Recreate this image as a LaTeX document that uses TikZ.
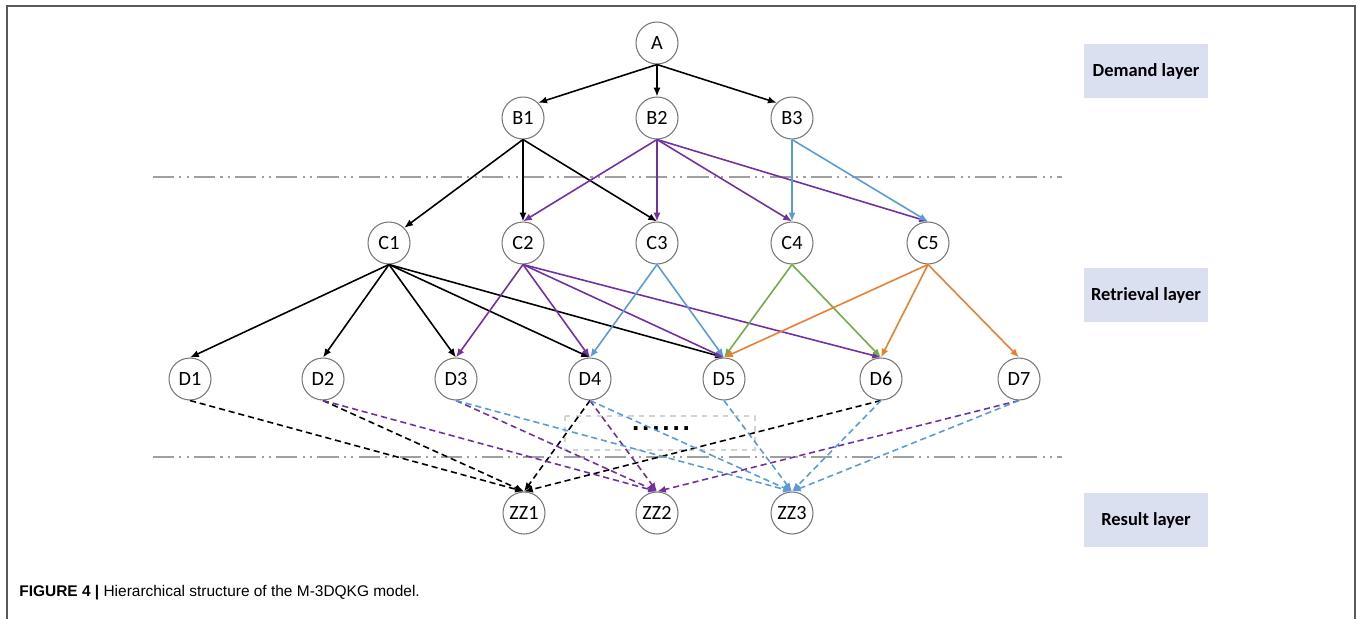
\documentclass[tikz,border=0pt]{standalone}
\usepackage{fontspec}
\setmainfont{Carlito}
\newfontfamily\capfont{Liberation Sans}
\usetikzlibrary{arrows.meta}

\definecolor{olpurple}{RGB}{112,48,160}
\definecolor{olblue}{RGB}{91,155,213}
\definecolor{olgreen}{RGB}{112,173,71}
\definecolor{olorange}{RGB}{237,125,49}
\definecolor{layerfill}{RGB}{218,224,240}
\definecolor{knotline}{RGB}{120,120,120}

\begin{document}
\begin{tikzpicture}[x=0.02cm, y=-0.02cm, >={Latex[length=5pt,width=4pt]},
    knot/.style={circle, draw=knotline, line width=0.6pt, minimum size=0.84cm,
        inner sep=0pt, font=\fontsize{11.5}{12}\selectfont},
    layerbox/.style={fill=layerfill, minimum width=2.48cm, minimum height=1.08cm,
        font=\bfseries\fontsize{10.5}{12}\selectfont},
    sepline/.style={draw=gray!75, line width=0.8pt,
        dash pattern=on 12pt off 3pt on 1.2pt off 3pt on 1.2pt off 3pt},
    edge/.style={->, line width=0.9pt},
    dedge/.style={->, line width=0.9pt, dash pattern=on 3.5pt off 2.2pt}]

    \useasboundingbox (0,0) rectangle (1357,619);

    % 1. Marco de la figura
    \draw[line width=1.1pt, draw=gray!70!black] (7,619) -- (7,6) -- (1355,6) -- (1355,619);

    % 2. Lineas de separacion entre capas
    \draw[sepline] (153,177) -- (1062,177);
    \draw[sepline] (153,457) -- (1062,457);

    % 3. Cajas de las capas
    \node[layerbox] (demand) at (1146,71) {Demand layer};
    \node[layerbox] (retrieval) at (1146,295) {Retrieval layer};
    \node[layerbox] (result) at (1146,520) {Result layer};

    % 4. Nodos del nivel A y B
    \node[knot] (A) at (657,43) {A};
    \node[knot] (B1) at (523,118) {B1};
    \node[knot] (B2) at (657,118) {B2};
    \node[knot] (B3) at (792,118) {B3};

    % 5. Nodos del nivel C
    \node[knot] (C1) at (389,243) {C1};
    \node[knot] (C2) at (523,243) {C2};
    \node[knot] (C3) at (657,243) {C3};
    \node[knot] (C4) at (792,243) {C4};
    \node[knot] (C5) at (928,243) {C5};

    % 6. Nodos del nivel D
    \node[knot] (D1) at (190,379) {D1};
    \node[knot] (D2) at (323,379) {D2};
    \node[knot] (D3) at (456,379) {D3};
    \node[knot] (D4) at (590,379) {D4};
    \node[knot] (D5) at (724,379) {D5};
    \node[knot] (D6) at (881,379) {D6};
    \node[knot] (D7) at (1019,379) {D7};

    % 7. Nodos del resultado
    \node[knot] (ZZ1) at (524,513) {ZZ1};
    \node[knot] (ZZ2) at (657,513) {ZZ2};
    \node[knot] (ZZ3) at (792,513) {ZZ3};

    % 8. Caja punteada con los puntos
    \draw[draw=gray!35, line width=0.8pt, dashed] (565,416) rectangle (755,450);
    \node (dots) at (661,429) {\capfont\bfseries\fontsize{15}{16}\selectfont
        .\kern1.6pt.\kern1.6pt.\kern1.6pt.\kern1.6pt.\kern1.6pt.};

    % 9. Flechas A -> B
    \draw[edge] (A.south) -- (B1.north east);
    \draw[edge] (A.south) -- (B2.north);
    \draw[edge] (A.south) -- (B3.north west);

    % 10. Flechas B -> C
    \draw[edge] (B1.south) -- (C1.north east);
    \draw[edge] (B1.south) -- (C2.north);
    \draw[edge] (B1.south) -- (C3.north);
    \draw[edge, olpurple] (B2.south) -- (C2.north);
    \draw[edge, olpurple] (B2.south) -- (C3.north);
    \draw[edge, olpurple] (B2.south) -- (C4.north);
    \draw[edge, olpurple] (B2.south) -- (C5.north);
    \draw[edge, olblue] (B3.south) -- (C4.north);
    \draw[edge, olblue] (B3.south) -- (C5.north);

    % 11. Flechas C -> D
    \draw[edge] (C1.south) -- (D1.north);
    \draw[edge] (C1.south) -- (D2.north);
    \draw[edge] (C1.south) -- (D3.north);
    \draw[edge] (C1.south) -- (D4.north);
    \draw[edge] (C1.south) -- (D5.north);
    \draw[edge, olpurple] (C2.south) -- (D3.north);
    \draw[edge, olpurple] (C2.south) -- (D4.north);
    \draw[edge, olpurple] (C2.south) -- (D5.north);
    \draw[edge, olpurple] (C2.south) -- (D6.north);
    \draw[edge, olblue] (C3.south) -- (D4.north);
    \draw[edge, olblue] (C3.south) -- (D5.north);
    \draw[edge, olgreen] (C4.south) -- (D5.north);
    \draw[edge, olgreen] (C4.south) -- (D6.north);
    \draw[edge, olorange] (C5.south) -- (D5.north);
    \draw[edge, olorange] (C5.south) -- (D6.north);
    \draw[edge, olorange] (C5.south) -- (D7.north);

    % 12. Flechas discontinuas D -> ZZ
    \draw[dedge] (D1.south) -- (ZZ1.north);
    \draw[dedge] (D2.south) -- (ZZ1.north);
    \draw[dedge] (D4.south) -- (ZZ1.north);
    \draw[dedge] (D6.south) -- (ZZ1.north);
    \draw[dedge, olpurple] (D2.south) -- (ZZ2.north);
    \draw[dedge, olpurple] (D3.south) -- (ZZ2.north);
    \draw[dedge, olpurple] (D4.south) -- (ZZ2.north);
    \draw[dedge, olpurple] (D7.south) -- (ZZ2.north);
    \draw[dedge, olblue] (D3.south) -- (ZZ3.north);
    \draw[dedge, olblue] (D4.south) -- (ZZ3.north);
    \draw[dedge, olblue] (D5.south) -- (ZZ3.north);
    \draw[dedge, olblue] (D6.south) -- (ZZ3.north);
    \draw[dedge, olblue] (D7.south) -- (ZZ3.north);

    % 13. Pie de figura
    \node[anchor=west, inner sep=0pt] (caption) at (19,593)
        {\capfont\fontsize{8.8}{11}\selectfont\textbf{FIGURE 4 |} Hierarchical structure of the M-3DQKG model.};

\end{tikzpicture}
\end{document}
